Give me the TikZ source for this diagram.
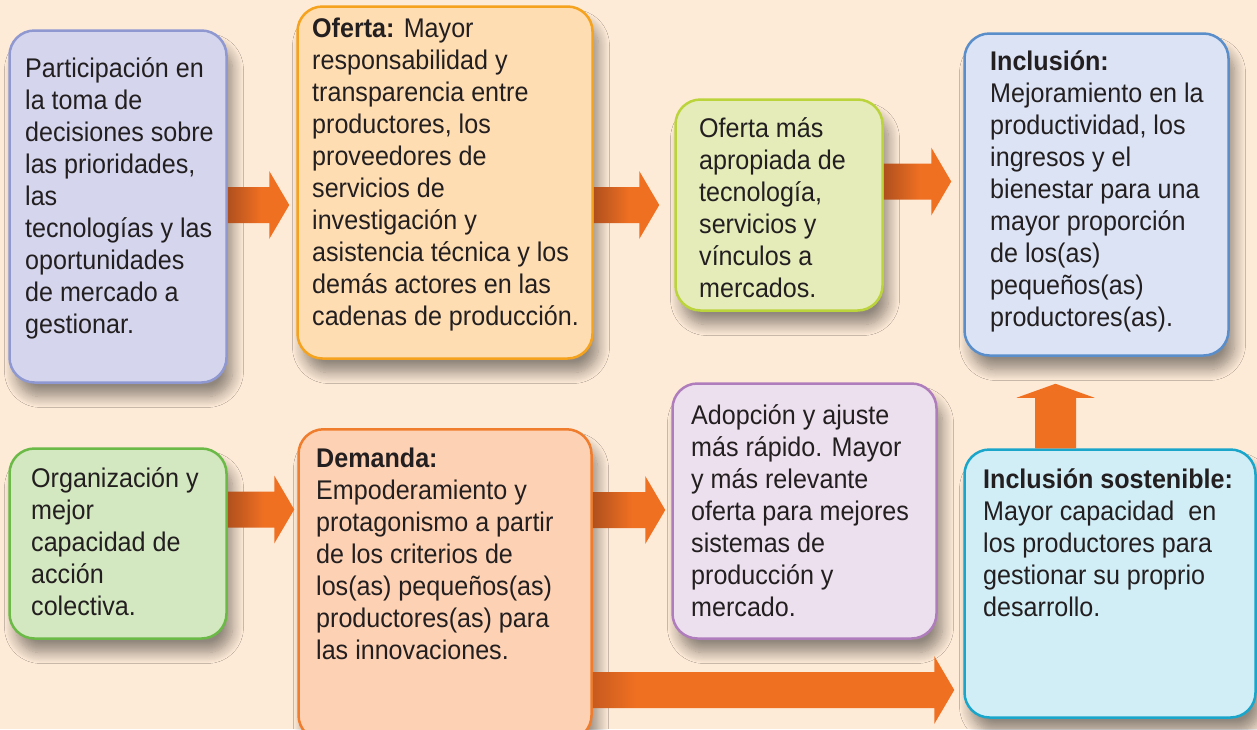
\documentclass[tikz,border=0pt]{standalone}
\usepackage{fontspec}
\setmainfont[FakeStretch=0.93]{Liberation Sans}
\usetikzlibrary{calc,shadows.blur}
\definecolor{bgc}{HTML}{FDEAD7}
\definecolor{tc}{HTML}{231F20}
\definecolor{aor}{HTML}{F07022}
\definecolor{adark}{HTML}{B0501E}
\definecolor{amid}{HTML}{C85A1F}
\definecolor{f1}{HTML}{D5D6EE}\definecolor{d1}{HTML}{8F98D0}
\definecolor{f2}{HTML}{FEDDB2}\definecolor{d2}{HTML}{F5A21E}
\definecolor{f3}{HTML}{E5ECB9}\definecolor{d3}{HTML}{BCD43C}
\definecolor{f4}{HTML}{DCE3F4}\definecolor{d4}{HTML}{5A8ECB}
\definecolor{f5}{HTML}{D3E7C0}\definecolor{d5}{HTML}{6BBA47}
\definecolor{f6}{HTML}{FDD1B3}\definecolor{d6}{HTML}{F07D2E}
\definecolor{f7}{HTML}{EDE0EE}\definecolor{d7}{HTML}{B07DBC}
\definecolor{f8}{HTML}{D1EDF6}\definecolor{d8}{HTML}{1AA6CA}
\pgfdeclarehorizontalshading{shortarr}{100bp}{color(0bp)=(adark); color(25bp)=(adark); color(52bp)=(aor); color(100bp)=(aor)}
\pgfdeclarehorizontalshading{longarr}{100bp}{color(0bp)=(amid); color(25bp)=(amid); color(31bp)=(aor); color(100bp)=(aor)}
\newcommand\harr[3]{%
  \shade[shading=#3] let \p1=(#1), \p2=(#2) in
    (\x1,\y1+18pt) -- (\x2-20pt,\y1+18pt) -- (\x2-20pt,\y1+34pt) -- (\x2,\y1)
    -- (\x2-20pt,\y1-34pt) -- (\x2-20pt,\y1-18pt) -- (\x1,\y1-18pt) -- cycle;}
\begin{document}
\begin{tikzpicture}[x=1pt,y=-1pt,
  box/.style n args={2}{rectangle, rounded corners=25pt, fill=#1, draw=#2,
    line width=2.5pt, inner sep=0pt,
    blur shadow={shadow xshift=6pt, shadow yshift=-14pt, shadow blur radius=11pt,
      shadow blur steps=12, shadow opacity=42}},
  txt/.style={anchor=north west, inner sep=0pt, align=left, text=tc,
    font=\fontsize{27}{32}\selectfont}]
\fill[bgc] (0,0) rectangle (1257,729);
\useasboundingbox (0,0) rectangle (1257,729);

% boxes
\node[box={f1}{d1}, minimum width=217pt, minimum height=352pt] (b1) at (118,206.5) {};
\node[box={f2}{d2}, minimum width=295pt, minimum height=352pt] (b2) at (445,182.5) {};
\node[box={f3}{d3}, minimum width=207pt, minimum height=211pt] (b3) at (779,205) {};
\node[box={f4}{d4}, minimum width=264pt, minimum height=322pt] (b4) at (1096.5,194.5) {};
\node[box={f5}{d5}, minimum width=217pt, minimum height=190pt] (b5) at (118,543.5) {};
\node[box={f6}{d6}, minimum width=293pt, minimum height=311pt] (b6) at (445,584.75) {};
\node[box={f7}{d7}, minimum width=264pt, minimum height=255pt] (b7) at (804.5,511) {};
\node[box={f8}{d8}, minimum width=291pt, minimum height=268pt] (b8) at (1110,583.5) {};

% texts
\node[txt] (t1) at (25,54.6) {\strut Participación en\\la toma de\\decisiones sobre\\las prioridades,\\las\\tecnologías y las\\oportunidades\\de mercado a\\gestionar.};
\node[txt] (t2) at (312,14.6) {\strut\textbf{Oferta:} Mayor\\responsabilidad y\\transparencia entre\\productores, los\\proveedores de\\servicios de\\investigación y\\asistencia técnica y los\\demás actores en las\\cadenas de producción.};
\node[txt] (t3) at (699,114.6) {\strut Oferta más\\apropiada de\\tecnología,\\servicios y\\vínculos a\\mercados.};
\node[txt] (t4) at (990,47.6) {\strut\textbf{Inclusión:}\\Mejoramiento en la\\productividad, los\\ingresos y el\\bienestar para una\\mayor proporción\\de los(as)\\pequeños(as)\\productores(as).};
\node[txt] (t5) at (31,464.6) {\strut Organización y\\mejor\\capacidad de\\acción\\colectiva.};
\node[txt] (t6) at (316,444.6) {\strut\textbf{Demanda:}\\Empoderamiento y\\protagonismo a partir\\de los criterios de\\los(as) pequeños(as)\\productores(as) para\\las innovaciones.};
\node[txt] (t7) at (691,401.6) {\strut Adopción y ajuste\\más rápido. Mayor\\y más relevante\\oferta para mejores\\sistemas de\\producción y\\mercado.};
\node[txt] (t8) at (983,465.6) {\strut\textbf{Inclusión sostenible:}\\Mayor capacidad\ \ en\\los productores para\\gestionar su proprio\\desarrollo.};

% arrow end points
\coordinate (a1s) at (b1.east |- 0,205);
\coordinate (a1t) at ($(b2.west |- a1s)+(-7,0)$);
\coordinate (a2s) at (b2.east |- 0,205);
\coordinate (a2t) at ($(b3.west |- a2s)+(-15,0)$);
\coordinate (a3s) at (b3.east |- 0,181.5);
\coordinate (a3t) at ($(b4.west |- a3s)+(-12,0)$);
\coordinate (a4s) at (b5.east |- 0,509.5);
\coordinate (a4t) at ($(b6.west |- a4s)+(-3,0)$);
\coordinate (a5s) at (b6.east |- 0,510);
\coordinate (a5t) at ($(b7.west |- a5s)+(-6,0)$);
\coordinate (a6s) at (b6.east |- 0,690);
\coordinate (a6t) at ($(b8.west |- a6s)+(-9,0)$);
\coordinate (a7s) at (b8.north -| 1055.5,0);
\coordinate (a7t) at ($(a7s |- b4.south)+(0,27)$);

\harr{a1s}{a1t}{shortarr}
\harr{a2s}{a2t}{shortarr}
\harr{a3s}{a3t}{shortarr}
\harr{a4s}{a4t}{shortarr}
\harr{a5s}{a5t}{shortarr}
\harr{a6s}{a6t}{longarr}
\fill[aor] let \p1=(a7s), \p2=(a7t) in
  (\x1-20.5pt,\y1) -- (\x1-20.5pt,\y2-14pt) -- (\x1-39pt,\y2-14pt) -- (\x1,\y2)
  -- (\x1+39pt,\y2-14pt) -- (\x1+20.5pt,\y2-14pt) -- (\x1+20.5pt,\y1) -- cycle;
\end{tikzpicture}
\end{document}
